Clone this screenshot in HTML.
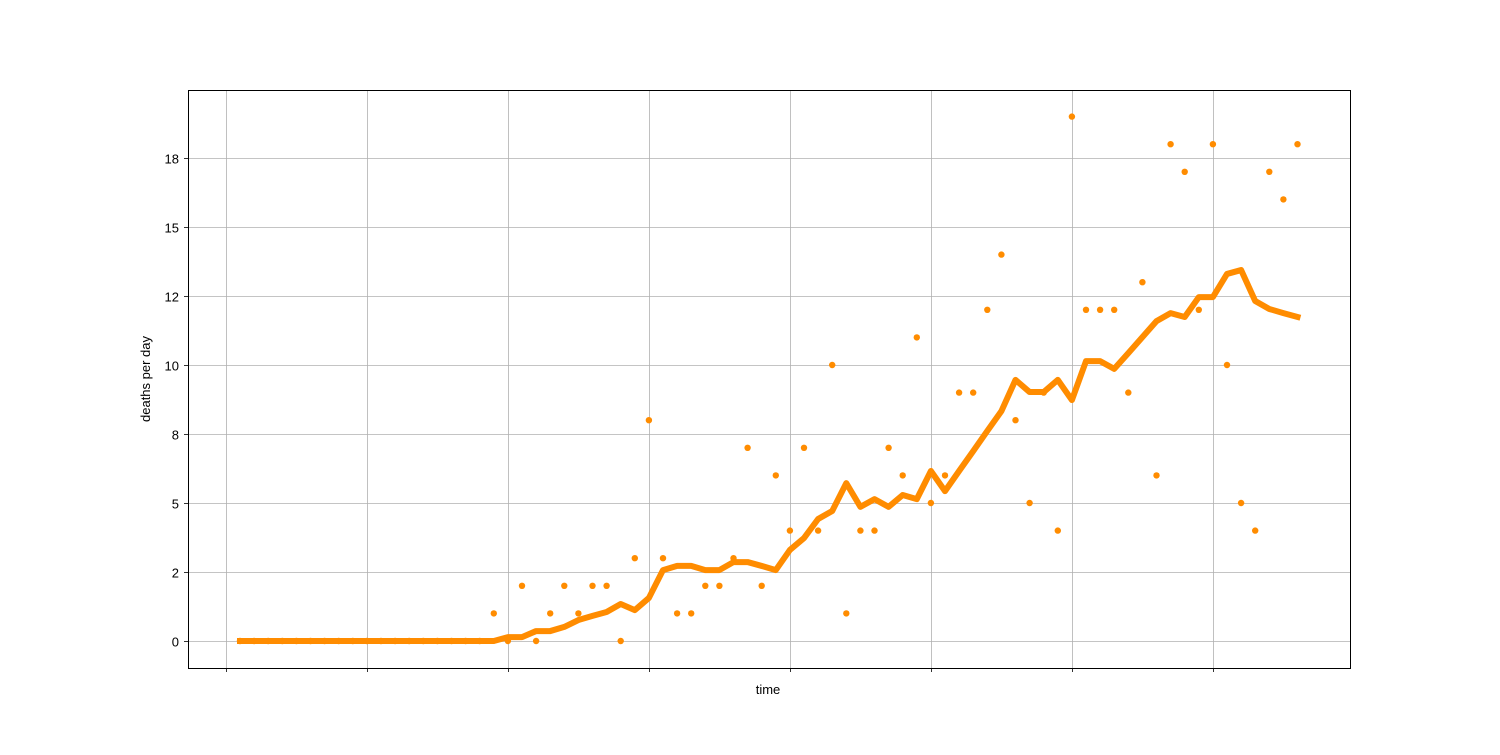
<!DOCTYPE html>
<html><head><meta charset="utf-8"><style>
body{margin:0;background:#fff;}
svg text{font-family:"Liberation Sans",sans-serif;font-size:13px;fill:#000;}
</style></head><body>
<svg id="chart" width="1500" height="750" xmlns="http://www.w3.org/2000/svg">
<rect width="1500" height="750" fill="#fff"/>
<g id="grid"></g><g id="marks"></g><g id="ticks"></g>
<rect x="188.5" y="90.5" width="1162" height="578" fill="none" stroke="#000" stroke-width="1"/>
<text x="768" y="694" text-anchor="middle">time</text>
<text transform="translate(150,379) rotate(-90)" text-anchor="middle">deaths per day</text>
</svg>
<script>
const dailyDeaths=[0,0,0,0,0,0,0,0,0,0,0,0,0,0,0,0,0,0,1,0,2,0,1,2,1,2,2,0,3,8,3,1,1,2,2,3,7,2,6,4,7,4,10,1,4,4,7,6,11,5,6,9,9,12,14,8,5,9,4,19,12,12,12,9,13,6,18,17,12,18,10,5,4,17,16,18];
const rollingAvg=[0,0,0,0,0,0,0,0,0,0,0,0,0,0,0,0,0,0,0,0.14,0.14,0.36,0.36,0.51,0.76,0.91,1.05,1.34,1.12,1.56,2.57,2.72,2.72,2.57,2.57,2.86,2.86,2.72,2.57,3.30,3.73,4.42,4.71,5.72,4.86,5.14,4.86,5.29,5.14,6.16,5.43,6.16,6.88,7.61,8.33,9.46,9.02,9.02,9.46,8.73,10.14,10.14,9.86,10.43,11.01,11.59,11.88,11.74,12.46,12.46,13.30,13.44,12.32,12.03,11.88,11.74];
const yTickValues=[0,2.5,5,7.5,10,12.5,15,17.5];
const yTickLabels=["0","2","5","8","10","12","15","18"];
const xTickDays=[-1,9,19,29,39,49,59,69];

const NS="http://www.w3.org/2000/svg";
const xs=i=>240+i*14.1;
const ys=v=>641-v*27.6;
function mk(tag,attrs,parent){const e=document.createElementNS(NS,tag);for(const k in attrs)e.setAttribute(k,attrs[k]);document.getElementById(parent).appendChild(e);return e;}

yTickValues.forEach((v,k)=>{
  const y=Math.round(ys(v))+0.5;
  const g=mk('line',{x1:188,x2:1350,y1:y,y2:y,stroke:'#b0b0b0','stroke-width':0.8},'grid');
  
  
  const t=mk('line',{x1:184,x2:188,y1:y,y2:y,stroke:'#000','stroke-width':0.8},'ticks');
  
  
  const l=mk('text',{x:179,y:y+5,'text-anchor':'end'},'ticks');
  l.textContent=yTickLabels[k];
  
  
});
xTickDays.forEach(d=>{
  const x=Math.round(xs(d))+0.5;
  const g=mk('line',{x1:x,x2:x,y1:90,y2:668,stroke:'#b0b0b0','stroke-width':0.8},'grid');
  
  
  const t=mk('line',{x1:x,x2:x,y1:668,y2:672,stroke:'#000','stroke-width':0.8},'ticks');
  
  
});
const p=mk('polyline',{points:rollingAvg.map((v,i)=>xs(i)+','+ys(v)).join(' '),fill:'none',stroke:'#ff8c00','stroke-width':6,'stroke-linejoin':'round','stroke-linecap':'square'},'marks');


dailyDeaths.forEach((v,i)=>{
  const c=mk('circle',{cx:xs(i),cy:ys(v),r:3.2,fill:'#ff8c00'},'marks');
  
  
});
</script>
</body></html>
